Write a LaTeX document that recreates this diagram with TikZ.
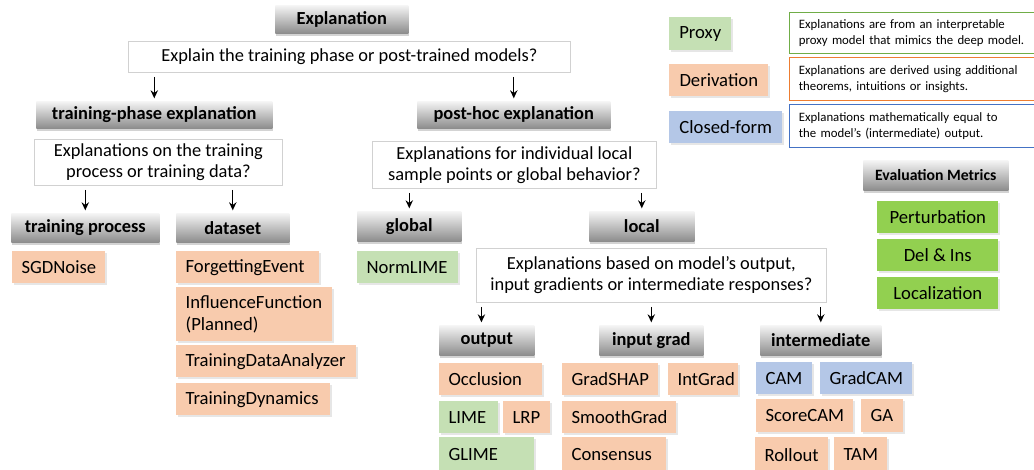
\documentclass[tikz,border=0pt]{standalone}
\usepackage{fontspec}
\setmainfont{Carlito}
\usetikzlibrary{arrows.meta,shadows}
\definecolor{pxg}{HTML}{C5E0B4}
\definecolor{drv}{HTML}{F8CBAD}
\definecolor{cfb}{HTML}{B4C7E7}
\definecolor{mtg}{HTML}{92D050}
\definecolor{bdg}{HTML}{70AD47}
\definecolor{bdo}{HTML}{ED7D31}
\definecolor{bdb}{HTML}{4472C4}
\newcommand\bxc[7]{%
  \pgfmathsetmacro\bw{(#5-#3)*0.75}\pgfmathsetmacro\bh{(#6-#4)*0.75}%
  \node[#2, anchor=north west, minimum width=\bw pt, minimum height=\bh pt, inner sep=0pt] (#1) at (#3,#4) {#7};}
\newcommand\bxl[7]{%
  \pgfmathsetmacro\bw{(#5-#3)*0.75-14}\pgfmathsetmacro\bh{(#6-#4)*0.75}%
  \node[#2, anchor=north west, text width=\bw pt, align=left, minimum height=\bh pt, inner xsep=7pt, inner ysep=0pt] (#1) at (#3,#4) {#7};}
\tikzset{
  hdr/.style={top color=white!96!black, bottom color=black!45, draw=none, font=\fontsize{13.8}{15}\selectfont\bfseries,
    drop shadow={opacity=0.35, shadow xshift=0.5pt, shadow yshift=-1.8pt}},
  qbox/.style={draw=black!18, line width=0.6pt, fill=white, align=center, font=\fontsize{13.8}{16}\selectfont},
  mbase/.style={draw=none, font=\fontsize{14}{16.5}\selectfont,
    drop shadow={opacity=0.2, shadow xshift=1pt, shadow yshift=-1pt}},
  prx/.style={mbase, fill=pxg},
  dvr/.style={mbase, fill=drv},
  cls/.style={mbase, fill=cfb},
  met/.style={mbase, fill=mtg},
  dsc/.style={draw=#1, line width=0.9pt, fill=white, font=\fontsize{9.6}{12}\selectfont},
  arr/.style={-{Stealth[length=6pt,width=5.5pt]}, line width=1pt, shorten <=3pt, shorten >=2pt},
}
\begin{document}
\begin{tikzpicture}[x=0.75pt,y=-0.75pt]
\useasboundingbox (0,0) rectangle (1034,470);
% headers and questions
\bxc{expl}{hdr}{275}{5}{408}{33}{Explanation}
\bxc{q1}{qbox}{128}{41}{570}{72}{Explain the training phase or post-trained models?}
\bxc{tpe}{hdr}{36}{101}{272}{128}{training-phase explanation}
\bxc{phe}{hdr}{417}{101}{610}{128}{post-hoc explanation}
\bxc{q2}{qbox}{34}{139}{282}{185}{Explanations on the training\\process or training data?}
\bxc{q3}{qbox}{372}{141}{656}{188}{Explanations for individual local\\sample points or global behavior?}
\bxc{tp}{hdr}{11}{213}{159}{242}{training process}
\bxc{ds}{hdr}{176}{213}{289}{242}{dataset}
\bxc{glob}{hdr}{357}{211}{461}{241}{global}
\bxc{loc}{hdr}{589}{211}{694}{241}{local}
\bxc{q4}{qbox}{476}{248}{826}{302}{Explanations based on model’s output,\\input gradients or intermediate responses?}
\bxc{out}{hdr}{439}{325}{534}{355}{output}
\bxc{ig}{hdr}{599}{325}{703}{355}{input grad}
\bxc{inter}{hdr}{760}{325}{881}{355}{intermediate}
% methods
\bxl{sgd}{dvr}{12}{251}{105}{283}{SGDNoise}
\bxl{fe}{dvr}{176}{251}{319}{283}{ForgettingEvent}
\bxl{inf}{dvr}{176}{287}{332}{341}{InfluenceFunction\\(Planned)}
\bxl{tda}{dvr}{176}{345}{356}{377}{TrainingDataAnalyzer}
\bxl{tdy}{dvr}{176}{383}{330}{415}{TrainingDynamics}
\bxl{nlime}{prx}{357}{251}{458}{283}{NormLIME}
\bxl{occ}{dvr}{439}{363}{542}{395}{Occlusion}
\bxl{lime}{prx}{439}{401}{498}{433}{LIME}
\bxl{lrp}{dvr}{503}{401}{550}{433}{LRP}
\bxl{glime}{prx}{439}{437}{534}{472}{GLIME}
\bxl{gshap}{dvr}{562}{363}{658}{395}{GradSHAP}
\bxl{igr}{dvr}{668}{363}{738}{395}{IntGrad}
\bxl{sg}{dvr}{562}{401}{676}{433}{SmoothGrad}
\bxl{cons}{dvr}{562}{437}{666}{472}{Consensus}
\bxl{cam}{cls}{756}{362}{812}{394}{CAM}
\bxl{gcam}{cls}{820}{362}{912}{394}{GradCAM}
\bxl{scam}{dvr}{756}{399}{853}{432}{ScoreCAM}
\bxl{ga}{dvr}{861}{399}{903}{432}{GA}
\bxl{roll}{dvr}{755}{437}{828}{472}{Rollout}
\bxl{tam}{dvr}{834}{437}{887}{472}{TAM}
% legend
\bxc{lgp}{prx}{669}{17}{731}{50}{Proxy}
\bxc{lgd}{dvr}{669}{64}{768}{96}{Derivation}
\bxc{lgc}{cls}{669}{111}{782}{143}{Closed-form}
\bxl{d1}{dsc=bdg}{789}{12}{1090}{53}{Explanations are from an interpretable\\proxy model that mimics the deep model.}
\bxl{d2}{dsc=bdo}{789}{57}{1090}{100}{Explanations are derived using additional\\theorems, intuitions or insights.}
\bxl{d3}{dsc=bdb}{789}{104}{1090}{147}{Explanations mathematically equal to\\the model’s (intermediate) output.}
% metrics
\bxc{em}{hdr, font=\fontsize{11.8}{13}\selectfont\bfseries}{863}{160}{1008}{190}{Evaluation Metrics}
\bxc{pert}{met}{877}{201}{998}{233}{Perturbation}
\bxc{delins}{met}{877}{239}{998}{271}{Del \& Ins}
\bxc{locz}{met}{877}{277}{998}{309}{Localization}
% arrows
\draw[arr] (q1.south -| tpe.north) -- (tpe.north);
\draw[arr] (q1.south -| phe.north) -- (phe.north);
\draw[arr] (q2.south -| tp.north) -- (tp.north);
\draw[arr] (q2.south -| ds.north) -- (ds.north);
\draw[arr] (q3.south -| glob.north) -- (glob.north);
\draw[arr] (q3.south -| loc.north) -- (loc.north);
\draw[arr] ([xshift=-4pt]q4.south -| out.north) -- ([xshift=-4pt]out.north);
\draw[arr] (q4.south -| ig.north) -- (ig.north);
\draw[arr] (q4.south -| inter.north) -- (inter.north);
\end{tikzpicture}
\end{document}
